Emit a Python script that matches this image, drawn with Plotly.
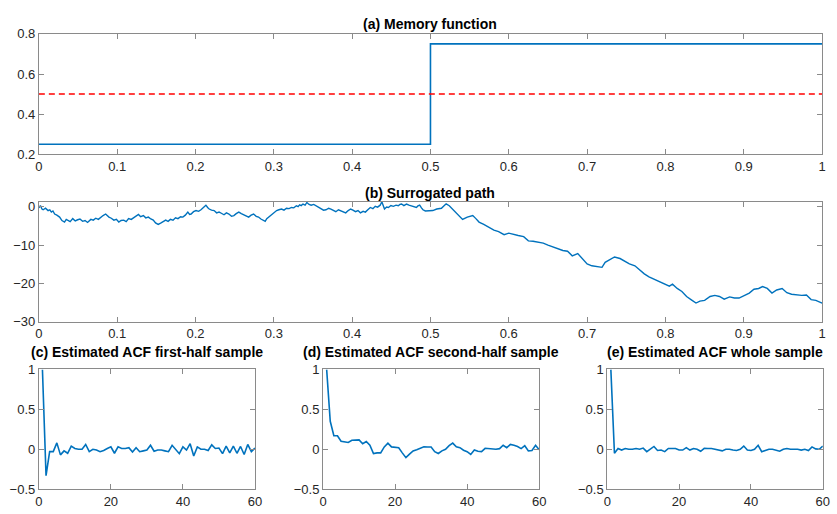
import plotly.graph_objects as go

# ---------------- data ----------------
mem_x = [0.0, 0.5, 1.0]
mem_v = [0.25, 0.75, 0.75]
ref_x = [0.0, 1.0]
ref_v = [0.5, 0.5]

path_t = [
    0.0000, 0.0020, 0.0040, 0.0055, 0.0085, 0.0118, 0.0140, 0.0160, 0.0180, 0.0202,
    0.0230, 0.0265, 0.0295, 0.0328, 0.0350, 0.0370, 0.0400, 0.0433, 0.0465, 0.0496,
    0.0525, 0.0559, 0.0590, 0.0622, 0.0645, 0.0664, 0.0695, 0.0727, 0.0760, 0.0790,
    0.0820, 0.0853, 0.0875, 0.0895, 0.0925, 0.0958, 0.0990, 0.1021, 0.1050, 0.1084,
    0.1115, 0.1146, 0.1180, 0.1209, 0.1240, 0.1272, 0.1300, 0.1335, 0.1365, 0.1398,
    0.1430, 0.1461, 0.1490, 0.1524, 0.1555, 0.1587, 0.1620, 0.1650, 0.1680, 0.1713,
    0.1745, 0.1776, 0.1810, 0.1839, 0.1870, 0.1902, 0.1925, 0.1944, 0.1975, 0.2007,
    0.2040, 0.2070, 0.2100, 0.2133, 0.2155, 0.2175, 0.2205, 0.2238, 0.2270, 0.2301,
    0.2330, 0.2364, 0.2395, 0.2427, 0.2460, 0.2490, 0.2520, 0.2553, 0.2585, 0.2616,
    0.2650, 0.2679, 0.2710, 0.2742, 0.2775, 0.2805, 0.2835, 0.2868, 0.2890, 0.2910,
    0.2940, 0.2973, 0.3005, 0.3036, 0.3065, 0.3099, 0.3130, 0.3162, 0.3195, 0.3225,
    0.3255, 0.3288, 0.3310, 0.3330, 0.3350, 0.3372, 0.3400, 0.3422, 0.3450, 0.3477,
    0.3510, 0.3540, 0.3570, 0.3603, 0.3635, 0.3666, 0.3700, 0.3729, 0.3760, 0.3792,
    0.3825, 0.3855, 0.3885, 0.3918, 0.3950, 0.3981, 0.4010, 0.4043, 0.4075, 0.4106,
    0.4140, 0.4169, 0.4200, 0.4232, 0.4265, 0.4295, 0.4325, 0.4358, 0.4379, 0.4395,
    0.4413, 0.4440, 0.4463, 0.4495, 0.4526, 0.4560, 0.4589, 0.4610, 0.4631, 0.4660,
    0.4694, 0.4725, 0.4757, 0.4790, 0.4820, 0.4840, 0.4862, 0.4885, 0.4904, 0.4935,
    0.4967,
    0.503, 0.508, 0.514, 0.518, 0.520, 0.524, 0.528, 0.535, 0.541, 0.547,
    0.554, 0.558, 0.562, 0.568, 0.575, 0.581, 0.587, 0.594, 0.600, 0.606,
    0.612, 0.619, 0.625, 0.631, 0.638, 0.644, 0.650, 0.656, 0.663, 0.669,
    0.675, 0.681, 0.688, 0.694, 0.700, 0.706, 0.713, 0.719, 0.723, 0.729,
    0.735, 0.742, 0.748, 0.754, 0.761, 0.767, 0.773, 0.779, 0.786, 0.792,
    0.798, 0.805, 0.809, 0.815, 0.821, 0.827, 0.834, 0.839, 0.844, 0.850,
    0.857, 0.863, 0.869, 0.875, 0.882, 0.888, 0.894, 0.901, 0.907, 0.913,
    0.919, 0.924, 0.930, 0.936, 0.942, 0.949, 0.955, 0.961, 0.967, 0.974,
    0.980, 0.986, 0.992, 0.998, 1.000,
]
path_v = [
    -0.3, 0.3, -0.6, -0.8, -0.4, -1.0, -0.8, -1.4, -1.1, -1.9,
    -2.2, -2.7, -3.6, -4.0, -3.3, -3.5, -3.9, -3.1, -3.7, -3.4,
    -3.2, -3.8, -3.6, -4.1, -3.7, -3.3, -3.5, -3.0, -3.3, -2.7,
    -2.3, -1.9, -2.4, -2.7, -3.0, -3.5, -3.3, -4.0, -3.6, -3.5,
    -3.9, -3.1, -3.3, -2.9, -2.5, -2.0, -2.6, -2.3, -2.9, -2.7,
    -3.2, -3.5, -4.2, -4.6, -4.3, -4.0, -3.5, -3.8, -3.3, -3.5,
    -2.9, -3.1, -2.6, -2.7, -2.2, -1.4, -2.0, -1.9, -1.3, -1.0,
    -1.2, -0.8, -0.3, 0.4, -0.2, -0.6, -0.9, -1.0, -1.6, -1.4,
    -1.7, -2.1, -1.6, -1.9, -2.5, -2.3, -1.8, -1.4, -1.8, -2.1,
    -2.4, -2.7, -2.2, -1.9, -2.5, -2.7, -3.2, -3.5, -3.8, -3.1,
    -2.6, -1.9, -1.5, -1.0, -0.8, -0.6, -0.9, -0.4, -0.5, -0.2,
    -0.3, 0.25, 0.0, 0.5, 0.3, 0.7, 0.4, 1.1, 0.6, 0.4,
    0.6, 0.25, -0.1, -0.4, -0.9, -0.8, -0.4, -0.6, -1.0, -1.3,
    -0.8, -1.0, -1.3, -1.6, -1.0, -0.6, -0.9, -1.3, -1.0, -1.6,
    -1.2, -1.4, -0.8, -0.2, -0.5, 0.1, -0.1, 0.4, 1.3, 0.2,
    -0.6, -0.1, -0.2, 0.3, 0.1, 0.4, 0.25, 0.6, 0.7, 0.3,
    0.7, 0.4, 0.25, 0.0, -0.2, 0.2, 0.4, -0.3, -0.8, -1.1,
    -1.0,
    -1.0, -0.6, -0.4, 0.4, 0.75, 0.25, -0.6, -1.9, -3.3, -2.7,
    -2.3, -3.1, -4.0, -4.6, -5.5, -6.1, -6.5, -7.3, -6.9, -7.3,
    -7.5, -7.8, -8.9, -9.0, -9.2, -9.5, -10.0, -10.5, -11.1, -11.4,
    -11.6, -12.8, -12.2, -13.7, -14.9, -15.4, -15.6, -15.8, -14.5, -13.7,
    -13.1, -13.5, -14.3, -14.9, -15.4, -16.5, -17.5, -18.3, -19.0, -19.6,
    -20.2, -20.7, -20.2, -21.3, -22.1, -23.4, -24.4, -25.1, -24.6, -24.4,
    -23.4, -23.1, -23.4, -24.1, -23.5, -23.8, -23.8, -23.2, -22.5, -21.5,
    -21.3, -20.8, -21.3, -22.5, -21.7, -21.3, -22.4, -22.8, -23.0, -23.1,
    -23.0, -24.2, -24.4, -24.9, -25.1,
]

lags = list(range(1, 61))
acf_first = [
    1.00, -0.33, -0.03, -0.03, 0.08, -0.07, -0.02, -0.05, 0.04, 0.01,
    0.00, 0.00, 0.06, -0.03, 0.00, -0.01, -0.03, -0.015, 0.01, 0.03,
    -0.05, 0.03, 0.01, 0.01, 0.02, -0.035, 0.02, -0.03, -0.02, -0.01,
    0.05, -0.025, -0.01, -0.01, -0.02, -0.03, 0.05, 0.00, -0.055, 0.03,
    -0.01, 0.07, -0.085, 0.03, 0.00, 0.00, -0.015, 0.055, 0.01, 0.015,
    -0.055, 0.04, -0.045, 0.04, -0.05, 0.035, -0.065, 0.06, -0.03, 0.015,
]
acf_second = [
    1.00, 0.35, 0.17, 0.17, 0.10, 0.093, 0.085, 0.113, 0.117, 0.117,
    0.07, 0.097, 0.05, -0.053, -0.045, -0.045, 0.03, 0.077, 0.03, 0.024,
    0.02, -0.045, -0.105, -0.06, -0.02, -0.005, 0.012, 0.03, 0.028, 0.028,
    -0.03, -0.053, -0.02, 0.00, 0.045, 0.077, 0.03, 0.02, -0.012, -0.03,
    -0.065, -0.008, -0.025, -0.03, 0.012, 0.008, 0.00, 0.00, 0.008, 0.05,
    0.02, 0.06, 0.05, 0.035, 0.008, 0.045, -0.02, -0.016, 0.05, -0.005,
]
acf_whole = [
    1.00, -0.05, 0.01, -0.01, 0.01, 0.00, 0.00, 0.01, 0.00, 0.015,
    -0.03, 0.00, 0.035, -0.015, -0.01, -0.03, 0.01, 0.01, 0.01, -0.01,
    -0.01, 0.02, -0.01, 0.01, 0.00, -0.025, 0.012, 0.01, 0.01, 0.00,
    -0.01, -0.02, 0.00, 0.00, -0.01, -0.015, 0.00, 0.04, -0.01, -0.015,
    0.00, 0.05, -0.03, -0.015, 0.00, 0.00, -0.01, -0.025, 0.00, 0.01,
    0.00, 0.00, 0.00, -0.01, 0.00, -0.015, 0.03, 0.005, 0.00, 0.04,
]

titles = [
    "(a) Memory function",
    "(b) Surrogated path",
    "(c) Estimated ACF first-half sample",
    "(d) Estimated ACF second-half sample",
    "(e) Estimated ACF whole sample",
]

# ---------------- layout geometry ----------------
W, H = 837, 514
def fx(px):
    return px / W
def fy(py):
    return 1 - py / H

BLUE = "#0072BD"
AXC = "#8a8a8a"
TXT = "#262626"
FONT = "Liberation Sans, Arial, Helvetica, sans-serif"

fig = go.Figure()

fig.add_trace(go.Scatter(x=mem_x, y=mem_v, mode="lines", line=dict(color=BLUE, width=1.6, shape="hv"),
                         xaxis="x", yaxis="y", showlegend=False))
fig.add_trace(go.Scatter(x=ref_x, y=ref_v, mode="lines", line=dict(color="#FF0000", width=1.5, dash="6px,4px"),
                         xaxis="x", yaxis="y", showlegend=False))
fig.add_trace(go.Scatter(x=path_t, y=path_v, mode="lines", line=dict(color=BLUE, width=1.4),
                         xaxis="x2", yaxis="y2", showlegend=False))
fig.add_trace(go.Scatter(x=lags, y=acf_first, mode="lines", line=dict(color=BLUE, width=1.6),
                         xaxis="x3", yaxis="y3", showlegend=False))
fig.add_trace(go.Scatter(x=lags, y=acf_second, mode="lines", line=dict(color=BLUE, width=1.6),
                         xaxis="x4", yaxis="y4", showlegend=False))
fig.add_trace(go.Scatter(x=lags, y=acf_whole, mode="lines", line=dict(color=BLUE, width=1.6),
                         xaxis="x5", yaxis="y5", showlegend=False))

common = dict(showline=True, linecolor=AXC, linewidth=1, mirror="ticks", ticks="inside",
              ticklen=5, tickcolor=AXC, tickwidth=1, showgrid=False, zeroline=False,
              tickfont=dict(family=FONT, size=13, color=TXT))

x_ab = [fx(35.3), fx(829)]
dom_a = [fy(151.7), fy(27.7)]
dom_b = [fy(324.3), fy(200.7)]
dom_bot = [fy(496.7), fy(373.3)]
x_c = [fx(35.3), fx(254.3)]
x_d = [fx(323.3), fx(542.3)]
x_e = [fx(611.3), fx(829.7)]

fig.update_layout(
    width=W, height=H,
    margin=dict(l=0, r=0, t=0, b=0),
    paper_bgcolor="white", plot_bgcolor="white",
    font=dict(family=FONT, color=TXT),
    xaxis=dict(domain=x_ab, anchor="y", range=[0, 1], dtick=0.1, tick0=0, **common),
    yaxis=dict(domain=dom_a, anchor="x", range=[0.2, 0.8], dtick=0.2, tick0=0.2, **common),
    xaxis2=dict(domain=x_ab, anchor="y2", range=[0, 1], dtick=0.1, tick0=0, **common),
    yaxis2=dict(domain=dom_b, anchor="x2", range=[-30, 1.27], tickvals=[-30, -20, -10, 0], **common),
    xaxis3=dict(domain=x_c, anchor="y3", range=[0, 60], dtick=20, tick0=0, **common),
    yaxis3=dict(domain=dom_bot, anchor="x3", range=[-0.5, 1], tickvals=[-0.5, 0, 0.5, 1], **common),
    xaxis4=dict(domain=x_d, anchor="y4", range=[0, 60], dtick=20, tick0=0, **common),
    yaxis4=dict(domain=dom_bot, anchor="x4", range=[-0.5, 1], tickvals=[-0.5, 0, 0.5, 1], **common),
    xaxis5=dict(domain=x_e, anchor="y5", range=[0, 60], dtick=20, tick0=0, **common),
    yaxis5=dict(domain=dom_bot, anchor="x5", range=[-0.5, 1], tickvals=[-0.5, 0, 0.5, 1], **common),
)

title_pos = [
    ((x_ab[0] + x_ab[1]) / 2, fy(17)),
    ((x_ab[0] + x_ab[1]) / 2, fy(192)),
    ((x_c[0] + x_c[1]) / 2, fy(355.5)),
    ((x_d[0] + x_d[1]) / 2, fy(355.5)),
    ((x_e[0] + x_e[1]) / 2, fy(355.5)),
]
for t, (px, py) in zip(titles, title_pos):
    fig.add_annotation(text="<b>" + t + "</b>", x=px, y=py, xref="paper", yref="paper",
                       xanchor="center", yanchor="middle", showarrow=False,
                       font=dict(family=FONT, size=14, color="black"))

fig.write_html("out.html")
